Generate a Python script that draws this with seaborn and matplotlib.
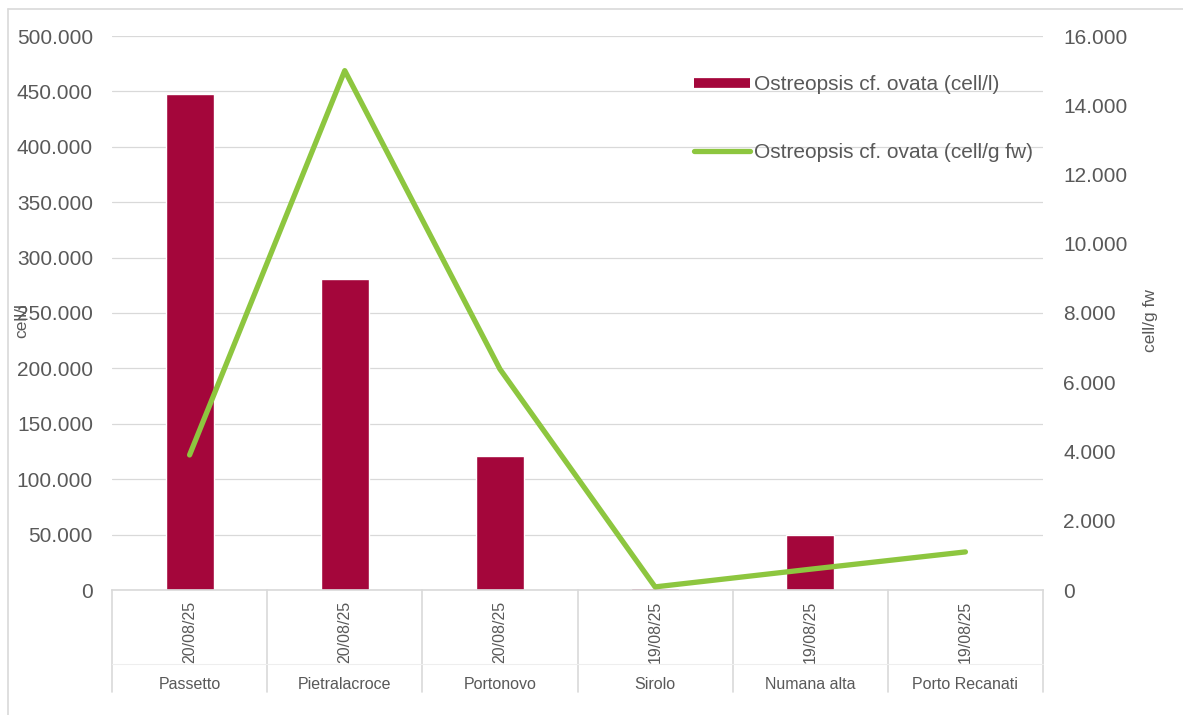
import numpy as np
import pandas as pd
import matplotlib
matplotlib.use("Agg")
import matplotlib.pyplot as plt
from matplotlib.lines import Line2D
from matplotlib.ticker import FuncFormatter
import matplotlib.transforms as mtransforms
import seaborn as sns

# Monitoring stations, sampling dates and Ostreopsis cf. ovata abundances
sites = ["Passetto", "Pietralacroce", "Portonovo", "Sirolo", "Numana alta", "Porto Recanati"]
dates = ["20/08/25", "20/08/25", "20/08/25", "19/08/25", "19/08/25", "19/08/25"]
cells_per_l = [448000, 281000, 121000, 1500, 49500, 500]
cells_per_gfw = [3900, 15000, 6380, 90, 600, 1100]

bar_label = "Ostreopsis cf. ovata (cell/l)"
line_label = "Ostreopsis cf. ovata (cell/g fw)"

BAR_COLOR = "#A4063B"
LINE_COLOR = "#8DC63F"
TEXT_COLOR = "#595959"
GRID_COLOR = "#D9D9D9"

sns.set_theme(style="white")
plt.rcParams["font.family"] = ["Liberation Sans", "DejaVu Sans"]

df = pd.DataFrame({"site": sites, "date": dates,
                   "cell_l": cells_per_l, "cell_gfw": cells_per_gfw})
df["pos"] = np.arange(len(df))

fig = plt.figure(figsize=(11.83, 7.15), dpi=100)
W, H = 1183, 715
fig.subplots_adjust(left=112 / W, right=1043 / W, top=1 - 36 / H, bottom=1 - 590 / H)
ax = fig.add_subplot(111)

sns.barplot(data=df, x="site", y="cell_l", color=BAR_COLOR, width=0.31,
            saturation=1, ax=ax, zorder=2)
ax.set_xlim(-0.5, len(df) - 0.5)
ax.set_ylim(0, 500000)
ax.set_yticks(np.arange(0, 500001, 50000))

ax2 = ax.twinx()
sns.lineplot(data=df, x="pos", y="cell_gfw", color=LINE_COLOR, linewidth=3.8,
             ax=ax2, zorder=3)
ax2.set_ylim(0, 16000)
ax2.set_yticks(np.arange(0, 16001, 2000))
ax2.set_xlim(-0.5, len(df) - 0.5)

fmt = FuncFormatter(lambda v, _: f"{int(round(v)):,}".replace(",", "."))
for a in (ax, ax2):
    a.yaxis.set_major_formatter(fmt)
    a.tick_params(axis="y", length=0, labelsize=15, labelcolor=TEXT_COLOR)
    for s in a.spines.values():
        s.set_visible(False)
    a.set_xlabel("")
ax.tick_params(axis="y", pad=13.7)
ax2.tick_params(axis="y", pad=14.4)

ax.yaxis.grid(True, color=GRID_COLOR, linewidth=0.9)
ax.set_axisbelow(True)
ax.spines["bottom"].set_visible(True)
ax.spines["bottom"].set_color(GRID_COLOR)
ax.spines["bottom"].set_linewidth(1.2)

ax.set_xticks([])
ax2.set_xticks([])

ax.set_ylabel("cell/l", fontsize=12.5, color=TEXT_COLOR)
ax.yaxis.set_label_coords(-0.089, 0.487)
ax2.set_ylabel("cell/g fw", fontsize=12.5, color=TEXT_COLOR)
ax2.yaxis.set_label_coords(1.107, 0.487)

# Two-level category axis: date (rotated) above site name, with separators
trans = mtransforms.blended_transform_factory(ax.transData, ax.transAxes)
for i, row in df.iterrows():
    ax.text(row["pos"], -0.0758, row["date"], transform=trans, rotation=90,
            ha="center", va="center", fontsize=11.5, color=TEXT_COLOR)
    ax.text(row["pos"], -0.1697, row["site"], transform=trans,
            ha="center", va="center", fontsize=11.5, color=TEXT_COLOR)
for b in np.arange(len(df) + 1) - 0.5:
    ax.add_line(Line2D([b, b], [0, -0.184], transform=trans, color=GRID_COLOR,
                       linewidth=1.2, clip_on=False))
ax.add_line(Line2D([-0.5, len(df) - 0.5], [-0.1336, -0.1336], transform=trans,
                   color="#EEEEEE", linewidth=0.8, clip_on=False))

handles = [Line2D([], [], color=BAR_COLOR, linewidth=7, solid_capstyle="butt"),
           Line2D([], [], color=LINE_COLOR, linewidth=3.8, solid_capstyle="round")]
ax2.legend(handles, [bar_label, line_label], loc="upper left",
           bbox_to_anchor=(0.625, 0.929), frameon=False, fontsize=15,
           labelcolor=TEXT_COLOR, borderpad=0, borderaxespad=0,
           handlelength=2.67, handletextpad=0.2, labelspacing=2.33)

# Frame around the figure
fig.add_artist(Line2D([8 / W, 1], [1 - 9 / H, 1 - 9 / H], transform=fig.transFigure,
                      color=GRID_COLOR, linewidth=1.2))
fig.add_artist(Line2D([8 / W, 8 / W], [0, 1 - 9 / H], transform=fig.transFigure,
                      color=GRID_COLOR, linewidth=1.2))

fig.savefig("out.png", dpi=100)
